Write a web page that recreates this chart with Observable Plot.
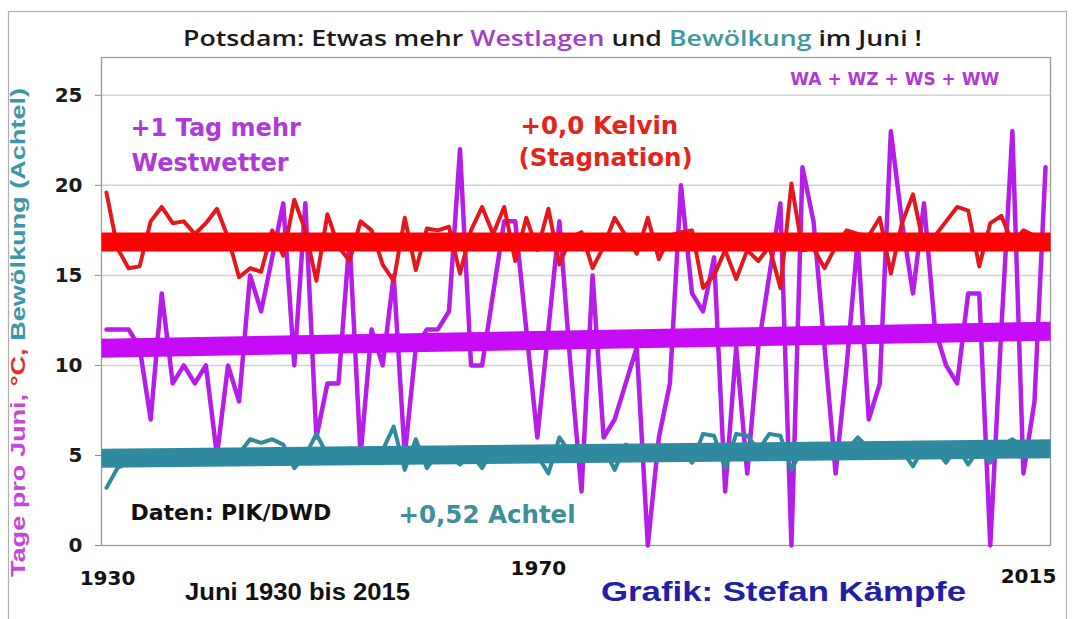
<!DOCTYPE html>
<html><head><meta charset="utf-8">
<script src="https://cdn.jsdelivr.net/npm/d3@7"></script>
<script src="https://cdn.jsdelivr.net/npm/@observablehq/plot@0.6"></script>
<style>
html,body{margin:0;padding:0;background:#fff;}
#chart{position:relative;width:1077px;height:619px;overflow:hidden;background:#fff;}
</style></head><body><div id="chart"></div>
<script>
// ---- data ----
const years = [1930,1931,1932,1933,1934,1935,1936,1937,1938,1939,
  1940,1941,1942,1943,1944,1945,1946,1947,1948,1949,
  1950,1951,1952,1953,1954,1955,1956,1957,1958,1959,
  1960,1961,1962,1963,1964,1965,1966,1967,1968,1969,
  1970,1971,1972,1973,1974,1975,1976,1977,1978,1979,
  1980,1981,1982,1983,1984,1985,1986,1987,1988,1989,
  1990,1991,1992,1993,1994,1995,1996,1997,1998,1999,
  2000,2001,2002,2003,2004,2005,2006,2007,2008,2009,
  2010,2011,2012,2013,2014,2015];
// Westlagen days (WA+WZ+WS+WW) per June
const westDays = [12,12,12,11,7,14,9,10,9,10,
  5,10,8,15,13,16,19,10,19,6,
  9,9,17,5,12,10,15,5,11,12,
  12,13,22,10,10,14,18,18,12,6,
  12,18,10,3,15,6,7,9,11,0,
  6,9,20,14,13,16,3,11,4,11,
  15,19,0,21,18,11,4,10,17,7,
  9,23,18,14,19,12,10,9,14,14,
  0,12,23,4,8,21];
// June mean temperature °C
const tempC = [19.6,16.5,15.4,15.5,18.0,18.8,17.9,18.0,17.3,17.9,
  18.7,17.1,14.9,15.4,15.2,17.5,16.1,19.2,17.5,14.7,
  18.4,16.6,15.8,18.0,17.5,15.6,14.7,18.2,15.3,17.6,
  17.5,17.7,15.1,17.5,18.8,17.3,18.8,15.8,18.2,16.4,
  18.7,15.6,17.1,17.4,15.4,16.6,18.2,17.2,16.2,18.2,
  15.9,17.2,17.4,17.5,14.3,15.0,16.4,14.8,16.4,15.8,
  16.6,14.3,20.1,16.4,16.5,15.4,16.6,17.5,17.3,17.2,
  18.2,15.1,17.9,19.5,16.6,17.2,18.0,18.8,18.6,15.5,
  17.9,18.3,16.8,17.5,17.2,17.2];
// June cloudiness (eighths)
const cloud = [3.2,4.3,4.6,4.5,4.7,4.6,4.8,4.7,4.6,4.9,
  4.6,5.0,5.1,5.9,5.7,5.9,5.6,4.3,5.0,6.2,
  5.0,4.8,5.4,5.2,4.7,5.3,6.6,4.2,5.9,4.3,
  5.2,5.0,4.5,5.1,4.3,5.3,5.1,4.9,5.2,5.0,
  4.0,6.0,5.1,5.3,5.2,5.4,4.2,5.6,5.3,5.2,
  5.6,5.3,5.4,4.6,6.2,6.1,4.3,6.2,6.1,5.3,
  6.2,6.1,4.2,5.4,5.3,5.5,5.6,5.3,6.0,5.4,
  5.5,5.6,5.3,4.4,5.5,5.4,4.6,5.5,4.5,5.4,
  4.6,5.5,5.9,5.4,5.5,5.6];
// linear trends (start / end of the period)
const trendYears = [1929.55, 2015.45];
const trendWest = [10.95, 11.9];
const trendTemp = [16.85, 16.85];
const trendCloud = [4.85, 5.37];
const yTicks = [0, 5, 10, 15, 20, 25];
const yearLabels = [1930, 1970, 2015];

// ---- tables built from the arrays ----
const rows = years.map((year, i) => ({year, west: westDays[i], temp: tempC[i], cloud: cloud[i]}));
const trend = trendYears.map((x, i) => ({x, west: trendWest[i], temp: trendTemp[i], cloud: trendCloud[i]}));

const PURPLE = "#B51EE8", PURPLE_T = "#C60CF6", PTEXT = "#B03AD8";
const RED = "#E3171C", RED_T = "#FF0000", RTEXT = "#E3241B";
const TEAL = "#2F8A9C", TEAL_T = "#2F8AA0", TTEXT = "#3F8E9B";
const BOLD = {fontFamily: "DejaVu Sans", fontWeight: "bold"};
const NARROW = {fontFamily: "Liberation Sans Narrow, Liberation Sans", fontWeight: "bold"};

const chart = Plot.plot({
  width: 1077, height: 619,
  marginLeft: 101, marginRight: 27, marginTop: 57, marginBottom: 74,
  x: {domain: [1929.55, 2015.45], axis: null},
  y: {domain: [0, 27.1], axis: null},
  style: {background: "transparent", overflow: "visible"},
  marks: [
    Plot.ruleY(yTicks.filter(d => d > 0), {stroke: "#d2d2d2", strokeWidth: 1.5}),
    Plot.frame({stroke: "#9a9a9a", strokeWidth: 1.3}),
    Plot.axisY({ticks: yTicks, tickSize: 6, tickPadding: 13, label: null, stroke: "#8a8a8a",
      fill: "#1a1a1a", fontSize: 20, ...BOLD}),
    Plot.line(rows, {x: "year", y: "west", stroke: PURPLE, strokeWidth: 4.5, strokeLinejoin: "round"}),
    Plot.line(rows, {x: "year", y: "temp", stroke: RED, strokeWidth: 4, strokeLinejoin: "round"}),
    Plot.line(rows, {x: "year", y: "cloud", stroke: TEAL, strokeWidth: 4, strokeLinejoin: "round"}),
    Plot.line(trend, {x: "x", y: "west", stroke: PURPLE_T, strokeWidth: 19, strokeLinecap: "butt"}),
    Plot.line(trend, {x: "x", y: "cloud", stroke: TEAL_T, strokeWidth: 19, strokeLinecap: "butt"}),
    Plot.line(trend, {x: "x", y: "temp", stroke: RED_T, strokeWidth: 19, strokeLinecap: "butt"}),
    // annotations
    Plot.text(["+1 Tag mehr"], {x: 1932.17, y: 23.17, text: d => d, textAnchor: "start", fill: PTEXT, fontSize: 24, ...BOLD}),
    Plot.text(["Westwetter"], {x: 1932.27, y: 21.2, text: d => d, textAnchor: "start", fill: PTEXT, fontSize: 24, ...BOLD}),
    Plot.text(["+0,0 Kelvin"], {x: 1967.47, y: 23.3, text: d => d, textAnchor: "start", fill: RTEXT, fontSize: 24.5, ...BOLD}),
    Plot.text(["(Stagnation)"], {x: 1967.29, y: 21.5, text: d => d, textAnchor: "start", fill: RTEXT, fontSize: 24.5, ...BOLD}),
    Plot.text(["WA + WZ + WS + WW"], {x: 1991.9, y: 25.9, text: d => d, textAnchor: "start", fill: PTEXT, fontSize: 17, ...BOLD}),
    Plot.text(["Daten: PIK/DWD"], {x: 1932.17, y: 1.83, text: d => d, textAnchor: "start", fill: "#111", fontSize: 22, ...BOLD}),
    Plot.text(["+0,52 Achtel"], {x: 1956.43, y: 1.67, text: d => d, textAnchor: "start", fill: TTEXT, fontSize: 24.5, ...BOLD}),
    // year labels under the plot
    Plot.text([yearLabels[0]], {x: d => d, frameAnchor: "bottom", lineAnchor: "middle", dx: 1, dy: 33, text: d => String(d), fill: "#111", fontSize: 20, ...BOLD}),
    Plot.text([yearLabels[1]], {x: d => d, frameAnchor: "bottom", lineAnchor: "middle", dx: -10, dy: 23, text: d => String(d), fill: "#111", fontSize: 20, ...BOLD}),
    Plot.text([yearLabels[2]], {x: d => d, frameAnchor: "bottom", lineAnchor: "middle", dx: -17, dy: 31, text: d => String(d), fill: "#111", fontSize: 20, ...BOLD}),
    Plot.text(["Juni 1930 bis 2015"], {frameAnchor: "bottom-left", textAnchor: "middle", lineAnchor: "middle", dx: 196, dy: 47,
      text: d => d, fill: "#111", fontSize: 24, ...NARROW}),
    Plot.text(["Grafik: Stefan Kämpfe"], {frameAnchor: "bottom-left", textAnchor: "middle", lineAnchor: "middle", dx: 682, dy: 47,
      text: d => d, fill: "#1E20A8", fontSize: 27, ...NARROW})
  ]
});
document.getElementById("chart").appendChild(chart);

const svg = d3.select(chart);
// fix widths of bottom texts
const widths = {"Juni 1930 bis 2015": 225, "Grafik: Stefan Kämpfe": 365};
svg.selectAll("text").each(function() {
  const w = widths[this.textContent];
  if (w) { d3.select(this).attr("textLength", w).attr("lengthAdjust", "spacingAndGlyphs"); }
});

// outer chart border
svg.insert("rect", ":first-child").attr("x", 8.5).attr("y", 11.5).attr("width", 1058).attr("height", 640)
  .attr("fill", "none").attr("stroke", "#b0b0b0").attr("stroke-width", 1.2);

// title with coloured words
const title = svg.append("text").attr("x", 552.5).attr("y", 46).attr("text-anchor", "middle")
  .attr("font-family", "Open Sans").attr("font-size", 22).attr("font-weight", 600).attr("fill", "#1a1a1a")
  .attr("textLength", 739).attr("lengthAdjust", "spacingAndGlyphs");
[["Potsdam: Etwas mehr ", "#1a1a1a"], ["Westlagen", "#A03FCB"], [" und ", "#1a1a1a"],
 ["Bewölkung", "#3F979E"], [" im Juni !", "#1a1a1a"]].forEach(([t, c]) => title.append("tspan").attr("fill", c).text(t));

// rotated y-axis label with coloured parts
const yl = svg.append("text").attr("transform", "translate(25,332.5) rotate(-90)").attr("text-anchor", "middle")
  .attr("font-family", "Liberation Sans").attr("font-size", 20).attr("font-weight", "bold")
  .attr("textLength", 489).attr("lengthAdjust", "spacingAndGlyphs");
[["Tage pro Juni, ", "#C447DA"], ["°C, ", "#E2302A"], ["Bewölkung (Achtel)", "#3C97A6"]]
  .forEach(([t, c]) => yl.append("tspan").attr("fill", c).text(t));
</script>
</body></html>
